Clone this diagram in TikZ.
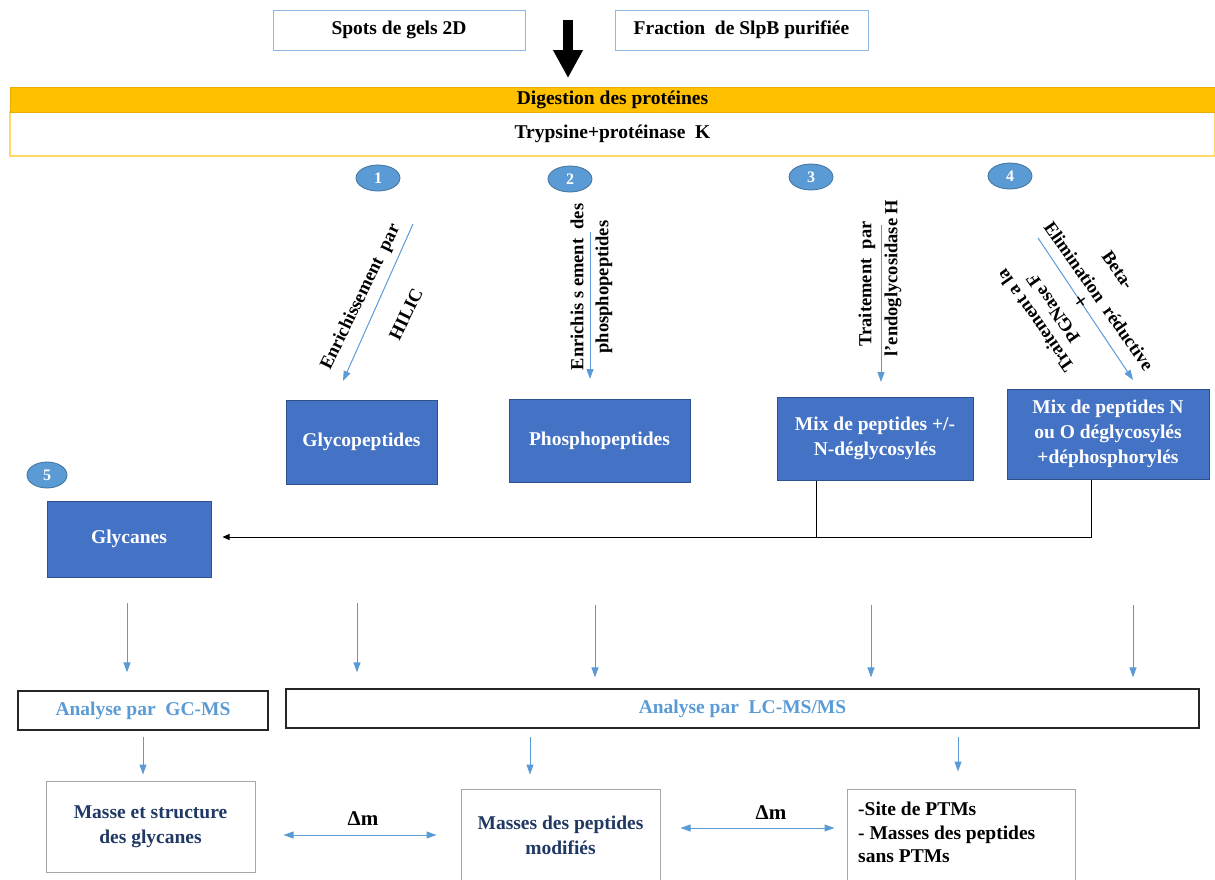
\documentclass[tikz,border=0pt]{standalone}
\usepackage{fontspec}
\setmainfont{Liberation Serif}
\usetikzlibrary{arrows.meta,shapes.geometric}
\newcommand\myfs[2]{\fontsize{#1}{#2}\selectfont}
\definecolor{topblue}{HTML}{8DB8E2}
\definecolor{bluefill}{HTML}{4472C4}
\definecolor{bluedark}{HTML}{2F528F}
\definecolor{numfill}{HTML}{5B9BD5}
\definecolor{numborder}{HTML}{41719C}
\definecolor{arrblue}{HTML}{5B9BD5}
\definecolor{orangefill}{HTML}{FFC000}
\definecolor{orangeline}{HTML}{FFD966}
\definecolor{navytext}{HTML}{203864}
\begin{document}
\begin{tikzpicture}[x=1pt,y=-1pt,
  every node/.style={font=\myfs{19.5}{25}\bfseries, inner sep=0pt, align=center},
  topbox/.style={draw=topblue, line width=0.8pt},
  bluebox/.style={draw=bluedark, fill=bluefill, text=white, line width=1pt, font=\myfs{19.5}{25}\bfseries},
  num/.style={ellipse, draw=numborder, fill=numfill, text=white, line width=0.8pt, minimum width=44pt, minimum height=26pt, font=\myfs{16}{16}\bfseries},
  barrow/.style={draw=arrblue, line width=1pt, -{Triangle[width=7pt,length=10pt]}},
  dbarrow/.style={draw=arrblue, line width=1pt, {Triangle[width=7pt,length=10pt]}-{Triangle[width=7pt,length=10pt]}},
  anbox/.style={draw=black!85, line width=1.2pt, text=arrblue},
  resbox/.style={draw=black!35, line width=1pt},
  rottext/.style={font=\myfs{18.5}{25}\bfseries}
]
\useasboundingbox (0,0) rectangle (1215,879);

% top boxes
\node[topbox, minimum width=252pt, minimum height=40pt] (spots) at (399,30) {Spots de gels 2D};
\node[topbox, minimum width=253pt, minimum height=40pt] (frac) at (741.5,30) {Fraction\ \ de SlpB purifiée};

% digestion bands
\node[draw=orangeline, line width=1.5pt, minimum width=1205pt, minimum height=44pt] (tryp) at (612.5,134) {Trypsine+protéinase\ \ K};
\node[fill=orangefill, draw=orangefill!90!black, line width=0.6pt, minimum width=1205pt, minimum height=25pt] (dig) at (612.5,99.5) {Digestion des protéines};

% big black arrow
\coordinate (bigs) at (568,20);
\coordinate (bige) at (568,78);
\draw[line width=10pt, -{Triangle[width=28pt,length=28pt]}] (bigs) -- (bige);

% numbered ellipses
\node[num] (n1) at (378,178) {1};
\node[num] (n2) at (570,179) {2};
\node[num] (n3) at (811,177) {3};
\node[num] (n4) at (1010,176) {4};
\node[num, minimum width=40pt, minimum height=26pt] (n5) at (47,475) {5};

% blue boxes
\node[bluebox, minimum width=151pt, minimum height=84pt] (glyco) at (361.5,442) {Glycopeptides};
\node[bluebox, minimum width=181pt, minimum height=83pt] (phospho) at (599.5,440.5) {Phosphopeptides};
\node[bluebox, minimum width=196pt, minimum height=83pt] (mix1) at (875,438.5) {Mix de peptides +/-\\N-déglycosylés};
\node[bluebox, minimum width=202pt, minimum height=90pt] (mix2) at (1108,434) {Mix de peptides N\\ou O déglycosylés\\+déphosphorylés};
\node[bluebox, minimum width=164pt, minimum height=76pt] (glycanes) at (129,539) {Glycanes};

% treatment arrows
\coordinate (a1s) at (413,224); \coordinate (a1e) at (343,381);
\coordinate (a2s) at (590,232); \coordinate (a2e) at (590,379);
\coordinate (a3s) at (881,225); \coordinate (a3e) at (881,382);
\coordinate (a4s) at (1038,238); \coordinate (a4e) at (1133,380);
\draw[barrow] (a1s) -- (a1e);
\draw[barrow] (a2s) -- (a2e);
\draw[barrow] (a3s) -- (a3e);
\draw[barrow] (a4s) -- (a4e);

% rotated labels
\node[rottext, rotate=64] (t1a) at (361,297) {Enrichissement\ \ par};
\node[rottext, rotate=64] (t1b) at (406,314) {HILIC};
\node[rottext, rotate=90] (t2a) at (577,287) {Enrichis s ement\ \ des};
\node[rottext, rotate=90] (t2b) at (604,287) {phosphopeptides};
\node[rottext, rotate=90] (t3a) at (867,284) {Traitement\ \ par};
\node[rottext, rotate=90] (t3b) at (893,278) {l'endoglycosidase H};
\node[rottext, rotate=-55] (t4a) at (1118,270) {Beta-};
\node[rottext, rotate=-55] (t4b) at (1099,296) {Elimination\ \ réductive};
\node[rottext, rotate=-55, font=\myfs{22}{22}\bfseries] (t4c) at (1080,302) {+};
\node[rottext, rotate=125] (t4d) at (1053,308) {PGNase F};
\node[rottext, rotate=125] (t4e) at (1035,321) {Traitement a la};

% black connectors to Glycanes
\coordinate (j1) at (816,537);
\coordinate (j2) at (1091,537);
\draw[line width=0.9pt] (j1 |- mix1.south) -- (j1);
\draw[line width=0.9pt, -{Triangle[width=6pt,length=7pt]}] (j2 |- mix2.south) -- (j2) -- ([xshift=11pt]glycanes.east |- j2);

% analysis boxes
\node[anbox, minimum width=250pt, minimum height=39pt] (gcms) at (143,710.5) {Analyse par\ \ GC-MS};
\node[anbox, minimum width=913pt, minimum height=39pt] (lcms) at (742.5,708.5) {Analyse par\ \ LC-MS/MS};

% down arrows to analysis
\coordinate (d1) at (127,603); \coordinate (d2) at (357,603); \coordinate (d3) at (595,605);
\coordinate (d4) at (871,605); \coordinate (d5) at (1133,605);
\draw[barrow] (d1) -- ([yshift=18pt]d1 |- gcms.north);
\draw[barrow] (d2) -- ([yshift=16pt]d2 |- lcms.north);
\draw[barrow] (d3) -- ([yshift=11pt]d3 |- lcms.north);
\draw[barrow] (d4) -- ([yshift=11pt]d4 |- lcms.north);
\draw[barrow] (d5) -- ([yshift=11pt]d5 |- lcms.north);

% result boxes
\node[resbox, minimum width=209pt, minimum height=91pt, text=navytext] (masse) at (150.5,826.5) {Masse et structure\\des glycanes};
\node[resbox, minimum width=199pt, minimum height=92pt, text=navytext] (mpep) at (560.5,835) {Masses des peptides\\modifiés};
\node[resbox, minimum width=228pt, minimum height=92pt] (site) at (961,835) {};
\node[anchor=north west, align=left, font=\myfs{19.5}{23.5}\bfseries] (sitetext) at (858,802) {-Site de PTMs\\- Masses des peptides\\sans PTMs};

% arrows analysis -> results
\coordinate (r1) at (143,737); \coordinate (r2) at (530,737); \coordinate (r3) at (958,737);
\draw[barrow] (r1) -- ([yshift=6pt]r1 |- masse.north);
\draw[barrow] (r2) -- ([yshift=14pt]r2 |- mpep.north);
\draw[barrow] (r3) -- ([yshift=17pt]r3 |- site.north);

% delta m arrows
\draw[dbarrow] ([xshift=28pt]masse.east |- 0,835) -- ([xshift=-24pt]mpep.west |- 0,835);
\draw[dbarrow] ([xshift=20pt]mpep.east |- 0,828) -- ([xshift=-12pt]site.west |- 0,828);
\node[font=\myfs{21}{22}\bfseries] (dm1) at (363,819) {Δm};
\node[font=\myfs{21}{22}\bfseries] (dm2) at (771,813) {Δm};
\end{tikzpicture}
\end{document}
